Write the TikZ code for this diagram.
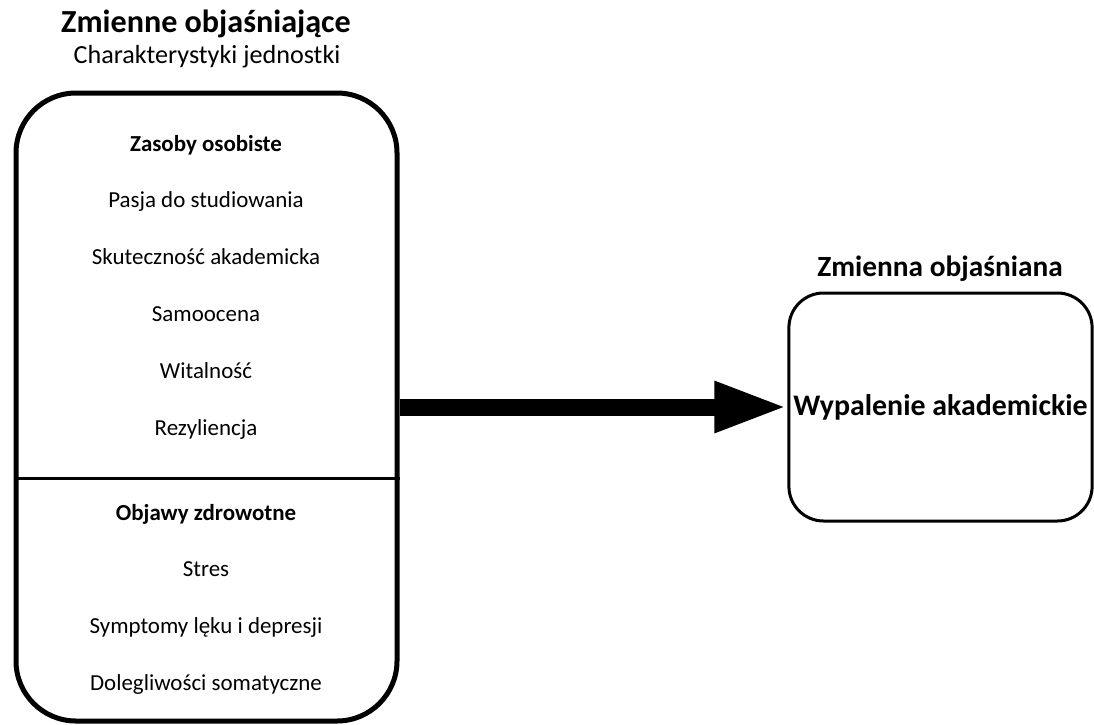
\documentclass[tikz,border=0pt]{standalone}
\usepackage{fontspec}
\setmainfont{Carlito}
\usetikzlibrary{arrows.meta, positioning}

\begin{document}
\begin{tikzpicture}[
  x=0.75pt, y=-0.75pt,
  node distance=25.8pt,
  bigbox/.style={draw, line width=3.75pt, rounded corners=45pt, minimum width=285.75pt, minimum height=471pt},
  outbox/.style={draw, line width=2.25pt, rounded corners=26pt, minimum width=227.25pt, minimum height=171pt, font=\fontsize{22.4}{26}\selectfont\bfseries},
  maintitle/.style={font=\fontsize{22}{26}\selectfont\bfseries, anchor=base, inner sep=0pt},
  subtitle/.style={font=\fontsize{19.6}{23}\selectfont, anchor=base, inner sep=0pt},
  entry/.style={font=\fontsize{17.2}{20}\selectfont, text height=12.5pt, text depth=4pt, inner sep=0pt},
  grouphead/.style={entry, font=\fontsize{17.2}{20}\selectfont\bfseries, anchor=base},
  divline/.style={line width=2.25pt},
  flow/.style={-{Triangle[length=54.75pt, width=35.25pt]}, line width=12.75pt}
]
\useasboundingbox (0,0) rectangle (1094,724);

% Titles
\node[maintitle, font=\fontsize{24.1}{28}\selectfont\bfseries] (lefttitle) at (206,33) {Zmienne objaśniające};
\node[subtitle] (leftsub) at (207,64) {Charakterystyki jednostki};
\node[maintitle] (righttitle) at (940,276) {Zmienna objaśniana};

% Boxes
\node[bigbox] (leftbox) at (206.5,407) {};
\node[outbox] (rightbox) at (940.5,407) {Wypalenie akademickie};

% Personal resources
\node[grouphead] (res) at (206,151) {Zasoby osobiste};
\node[entry, below=of res] (passion) {Pasja do studiowania};
\node[entry, below=of passion] (efficacy) {Skuteczność akademicka};
\node[entry, below=of efficacy] (esteem) {Samoocena};
\node[entry, below=of esteem] (vitality) {Witalność};
\node[entry, below=of vitality] (resil) {Rezyliencja};

% Divider
\coordinate (cut) at (206,478);
\draw[divline] (leftbox.west |- cut) -- (leftbox.east |- cut);

% Health symptoms
\node[grouphead] (health) at (206,520) {Objawy zdrowotne};
\node[entry, below=of health] (stress) {Stres};
\node[entry, below=of stress] (anxiety) {Symptomy lęku i depresji};
\node[entry, below=of anxiety] (somatic) {Dolegliwości somatyczne};

\draw[flow] (leftbox.east) -- (rightbox.west);

\end{tikzpicture}
\end{document}
